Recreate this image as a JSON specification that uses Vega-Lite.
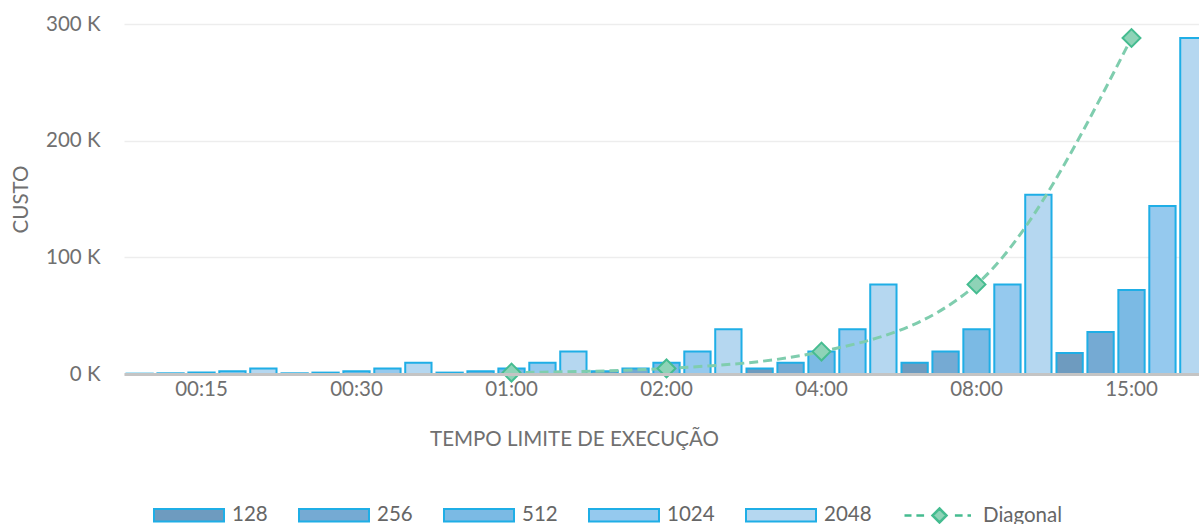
{
  "$schema": "https://vega.github.io/schema/vega-lite/v6.json",
  "autosize": "none",
  "padding": {"left": 124, "top": 24, "right": 0, "bottom": 150},
  "width": 1085,
  "height": 350,
  "background": "white",
  "config": {
    "font": "Lato",
    "view": {"stroke": null},
    "axis": {"labelColor": "#707070", "titleColor": "#707070", "labelFont": "Lato", "titleFont": "Lato", "titleFontWeight": "normal"}
  },
  "datasets": {
    "bars": [
      {"tempo": "00:15", "serie": "128", "custo": 300},
      {"tempo": "00:15", "serie": "256", "custo": 600},
      {"tempo": "00:15", "serie": "512", "custo": 1200},
      {"tempo": "00:15", "serie": "1024", "custo": 2400},
      {"tempo": "00:15", "serie": "2048", "custo": 4800},
      {"tempo": "00:30", "serie": "128", "custo": 600},
      {"tempo": "00:30", "serie": "256", "custo": 1200},
      {"tempo": "00:30", "serie": "512", "custo": 2400},
      {"tempo": "00:30", "serie": "1024", "custo": 4800},
      {"tempo": "00:30", "serie": "2048", "custo": 9600},
      {"tempo": "01:00", "serie": "128", "custo": 1200},
      {"tempo": "01:00", "serie": "256", "custo": 2400},
      {"tempo": "01:00", "serie": "512", "custo": 4800},
      {"tempo": "01:00", "serie": "1024", "custo": 9600},
      {"tempo": "01:00", "serie": "2048", "custo": 19200},
      {"tempo": "02:00", "serie": "128", "custo": 2400},
      {"tempo": "02:00", "serie": "256", "custo": 4800},
      {"tempo": "02:00", "serie": "512", "custo": 9600},
      {"tempo": "02:00", "serie": "1024", "custo": 19200},
      {"tempo": "02:00", "serie": "2048", "custo": 38400},
      {"tempo": "04:00", "serie": "128", "custo": 4800},
      {"tempo": "04:00", "serie": "256", "custo": 9600},
      {"tempo": "04:00", "serie": "512", "custo": 19200},
      {"tempo": "04:00", "serie": "1024", "custo": 38400},
      {"tempo": "04:00", "serie": "2048", "custo": 76800},
      {"tempo": "08:00", "serie": "128", "custo": 9600},
      {"tempo": "08:00", "serie": "256", "custo": 19200},
      {"tempo": "08:00", "serie": "512", "custo": 38400},
      {"tempo": "08:00", "serie": "1024", "custo": 76800},
      {"tempo": "08:00", "serie": "2048", "custo": 153600},
      {"tempo": "15:00", "serie": "128", "custo": 18000},
      {"tempo": "15:00", "serie": "256", "custo": 36000},
      {"tempo": "15:00", "serie": "512", "custo": 72000},
      {"tempo": "15:00", "serie": "1024", "custo": 144000},
      {"tempo": "15:00", "serie": "2048", "custo": 288000}
    ],
    "diag": [
      {"tempo": "01:00", "serie": "Diagonal", "custo": 1200},
      {"tempo": "02:00", "serie": "Diagonal", "custo": 4800},
      {"tempo": "04:00", "serie": "Diagonal", "custo": 19200},
      {"tempo": "08:00", "serie": "Diagonal", "custo": 76800},
      {"tempo": "15:00", "serie": "Diagonal", "custo": 288000}
    ]
  },
  "layer": [
    {
      "data": {"name": "bars"},
      "mark": {"type": "bar", "stroke": "#1FAEE6", "strokeWidth": 2, "opacity": 1},
      "encoding": {
        "x": {
          "field": "tempo", "type": "nominal",
          "sort": ["00:15", "00:30", "01:00", "02:00", "04:00", "08:00", "15:00"],
          "scale": {"paddingInner": 0, "paddingOuter": 0},
          "title": "TEMPO LIMITE DE EXECUÇÃO",
          "axis": {
            "labelAngle": 0, "labelFontSize": 20.5, "labelPadding": 5, "ticks": false,
            "domainColor": "#C4C4C4", "domainWidth": 3, "zindex": 1,
            "titleFontSize": 20.5, "titlePadding": 30, "titleX": 450, "titleAlign": "center", "titleAnchor": null
          }
        },
        "xOffset": {
          "field": "serie", "type": "nominal",
          "sort": ["128", "256", "512", "1024", "2048"],
          "scale": {"paddingInner": 0.15, "paddingOuter": 0.08}
        },
        "y": {
          "field": "custo", "type": "quantitative",
          "scale": {"domain": [0, 300000], "nice": false},
          "title": "CUSTO",
          "axis": {
            "values": [0, 100000, 200000, 300000],
            "labelExpr": "format(datum.value / 1000, 'd') + ' K'",
            "labelFontSize": 20.5, "labelPadding": 24, "ticks": false, "domain": false,
            "gridColor": "#EDEDED", "gridWidth": 1.5,
            "titleFontSize": 20.5, "titlePadding": 14
          }
        },
        "color": {
          "field": "serie", "type": "nominal",
          "scale": {
            "domain": ["128", "256", "512", "1024", "2048"],
            "range": ["#6E9BBF", "#75AAD3", "#7BBAE4", "#95C9EE", "#B5D7F0"]
          },
          "legend": {
            "orient": "none", "legendX": 29, "legendY": 455,
            "direction": "horizontal", "columns": 5, "title": null, "padding": 0,
            "symbolSize": 4900, "symbolStrokeWidth": 2, "symbolOpacity": 1, "symbolStrokeColor": "#1FAEE6",
            "symbolType": "M-1,-0.18H1V0.18H-1Z",
            "labelFontSize": 20.5, "labelColor": "#666666", "labelOffset": 7, "columnPadding": 27, "labelFont": "Lato"
          }
        }
      }
    },
    {
      "data": {"name": "diag"},
      "mark": {"type": "line", "strokeDash": [9, 5], "strokeWidth": 3, "interpolate": "monotone", "stroke": "#7FCDAE"},
      "encoding": {
        "x": {"field": "tempo", "type": "nominal", "sort": ["00:15", "00:30", "01:00", "02:00", "04:00", "08:00", "15:00"]},
        "y": {"field": "custo", "type": "quantitative"}
      }
    },
    {
      "data": {"name": "diag"},
      "mark": {"type": "point", "shape": "diamond", "filled": true, "fill": "#8ED3B7", "stroke": "#45BC90", "strokeWidth": 2, "size": 320},
      "encoding": {
        "x": {"field": "tempo", "type": "nominal", "sort": ["00:15", "00:30", "01:00", "02:00", "04:00", "08:00", "15:00"]},
        "y": {"field": "custo", "type": "quantitative"},
        "opacity": {
          "field": "serie", "type": "ordinal",
          "scale": {"domain": ["Diagonal"], "range": [1]},
          "legend": {
            "orient": "none", "legendX": 779, "legendY": 455,
            "title": null, "padding": 0,
            "symbolSize": 4900, "symbolStrokeWidth": 2.5,
            "symbolType": "M-1,0H-0.8M-0.66,0H-0.44M0.44,0H0.66M0.8,0H0.9M0,-0.2L0.2,0L0,0.2L-0.2,0Z",
            "labelFontSize": 20.5, "labelColor": "#666666", "labelOffset": 7, "labelFont": "Lato"
          }
        }
      }
    }
  ]
}
